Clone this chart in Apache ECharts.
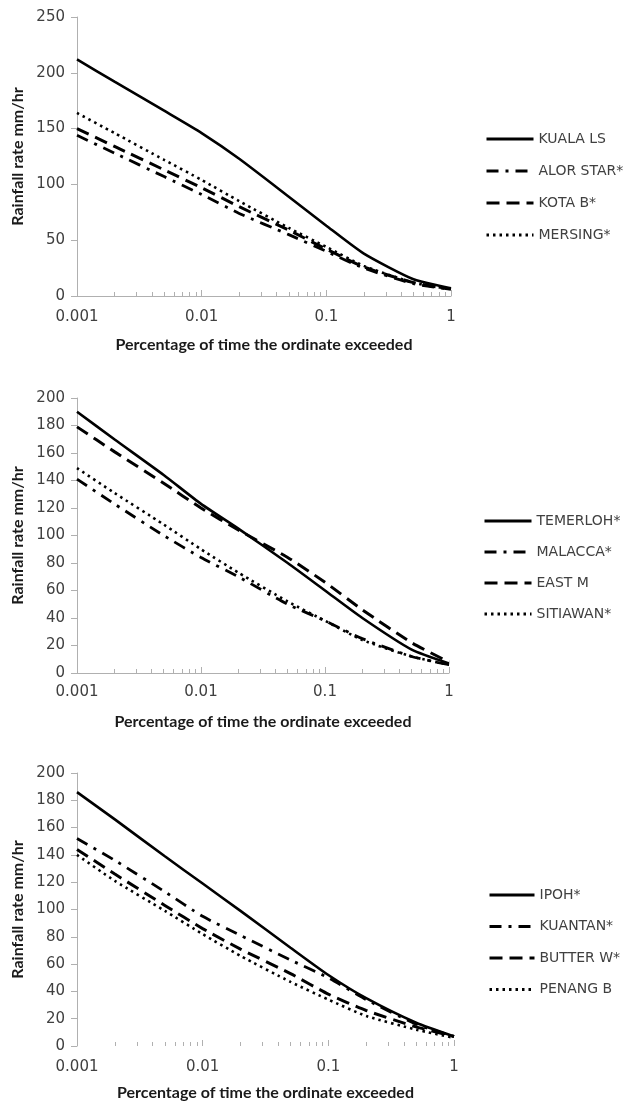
<!DOCTYPE html>
<html>
<head>
<meta charset="utf-8">
<script src="https://cdn.jsdelivr.net/npm/echarts@6/dist/echarts.min.js"></script>
<style>
html, body { margin: 0; padding: 0; background: #fff; }
#main { width: 630px; height: 1103px; }
</style>
</head>
<body>
<div id="main"></div>
<script>
// percentage of time (log x axis), shared by all three panels
var xPct = [0.001, 0.002, 0.005, 0.01, 0.02, 0.05, 0.1, 0.2, 0.5, 1];
var xTickLabels = ['0.001', '0.01', '0.1', '1'];

// panel 1
var names1 = ['KUALA LS', 'ALOR STAR*', 'KOTA B*', 'MERSING*'];
var kualaLs  = [212, 192, 166, 146, 123, 89, 63, 38, 15, 7];
var alorStar = [144, 128, 107, 91, 74, 55, 40, 25, 11, 6];
var kotaB    = [150, 134, 113, 97, 80, 59, 42, 26, 12, 6];
var mersing  = [164, 146, 122, 104, 85, 61, 44, 27, 12, 6];

// panel 2
var names2 = ['TEMERLOH*', 'MALACCA*', 'EAST M', 'SITIAWAN*'];
var temerloh = [190, 170, 144, 123, 105, 80, 60, 40, 17, 7];
var malacca  = [141, 123, 100, 84, 70, 50, 38, 25, 12, 6];
var eastM    = [179, 161, 138, 120, 104, 84, 66, 46, 22, 8];
var sitiawan = [149, 131, 108, 90, 73, 52, 38, 24, 12, 6];

// panel 3
var names3 = ['IPOH*', 'KUANTAN*', 'BUTTER W*', 'PENANG B'];
var ipoh     = [186, 166, 139, 119, 99, 72, 52, 35, 17, 7];
var kuantan  = [152, 136, 113, 95, 81, 63, 50, 34, 16, 7];
var butterW  = [144, 126, 103, 86, 71, 53, 38, 26, 14, 7];
var penangB  = [140, 121, 99, 82, 66, 47, 34, 22, 12, 6];

var yMax = [250, 200, 200];
var yStep = [50, 20, 20];

var grids = [
  { left: 77, top: 17, width: 374, height: 279 },
  { left: 77, top: 398, width: 372, height: 275 },
  { left: 77, top: 773, width: 377, height: 273 }
];
var legendPos = [
  { left: 485, top: 132, gap: 18 },
  { left: 483, top: 514, gap: 17 },
  { left: 488, top: 888, gap: 17.5 }
];
var labelMargin = [14, 12, 14];
var showXLine = [true, true, false];

// solid, dash-dot, dashed, dotted
var lineTypes = ['solid', [12, 7, 3, 7], [13, 7], [2.5, 4]];
var lineWidths = [2.6, 2.8, 3, 2.6];

var axisGray = '#b0b0b0';
var labelColor = '#404040';
var titleFont = { fontFamily: 'Lato', fontWeight: 'bold', fontSize: 16, color: '#1a1a1a' };

function pairs(ys) {
  return xPct.map(function (x, i) { return [x, ys[i]]; });
}

var panels = [
  [names1, [kualaLs, alorStar, kotaB, mersing]],
  [names2, [temerloh, malacca, eastM, sitiawan]],
  [names3, [ipoh, kuantan, butterW, penangB]]
];

var xAxes = [], yAxes = [], series = [], legends = [];
panels.forEach(function (p, g) {
  xAxes.push({
    gridIndex: g,
    type: 'log',
    logBase: 10,
    min: 0.001,
    max: 1,
    name: 'Percentage of time the ordinate exceeded',
    nameLocation: 'middle',
    nameGap: g === 2 ? 39 : 41,
    nameTextStyle: titleFont,
    axisLine: { show: showXLine[g], lineStyle: { color: axisGray, width: 1 } },
    axisTick: { show: true, inside: true, length: 6, lineStyle: { color: axisGray } },
    minorTick: { show: true, splitNumber: 9, length: 4, lineStyle: { color: axisGray } },
    splitLine: { show: false },
    minorSplitLine: { show: false },
    axisLabel: {
      margin: labelMargin[g],
      fontFamily: 'DejaVu Sans',
      fontSize: 15,
      color: labelColor,
      formatter: function (v) {
        var k = Math.round(Math.log(v) / Math.LN10) + 3;
        return xTickLabels[k] || '';
      }
    }
  });
  yAxes.push({
    gridIndex: g,
    type: 'value',
    min: 0,
    max: yMax[g],
    interval: yStep[g],
    name: 'Rainfall rate mm/hr',
    nameLocation: 'middle',
    nameGap: 51,
    nameTextStyle: titleFont,
    axisLine: { show: true, lineStyle: { color: axisGray, width: 1 } },
    axisTick: { show: true, length: 6, lineStyle: { color: axisGray } },
    splitLine: { show: false },
    axisLabel: { margin: 12, fontFamily: 'DejaVu Sans', fontSize: 15, color: labelColor }
  });
  p[1].forEach(function (ys, i) {
    series.push({
      name: p[0][i],
      type: 'line',
      xAxisIndex: g,
      yAxisIndex: g,
      data: pairs(ys),
      smooth: 0.2,
      symbol: 'none',
      lineStyle: { color: '#000', width: lineWidths[i], type: lineTypes[i], cap: 'butt' },
      itemStyle: { color: '#000' }
    });
  });
  legends.push({
    orient: 'vertical',
    left: legendPos[g].left,
    top: legendPos[g].top,
    padding: 0,
    itemWidth: g === 2 ? 45 : 47,
    itemHeight: 14,
    itemGap: legendPos[g].gap,
    data: p[0],
    itemStyle: { opacity: 0, color: 'transparent', borderColor: 'transparent', borderWidth: 0 },
    lineStyle: { width: 3 },
    textStyle: { fontFamily: 'DejaVu Sans', fontSize: 14, color: labelColor }
  });
});

var chart = echarts.init(document.getElementById('main'));
chart.setOption({
  backgroundColor: '#fff',
  animation: false,
  grid: grids,
  xAxis: xAxes,
  yAxis: yAxes,
  legend: legends,
  series: series
});
</script>
</body>
</html>
